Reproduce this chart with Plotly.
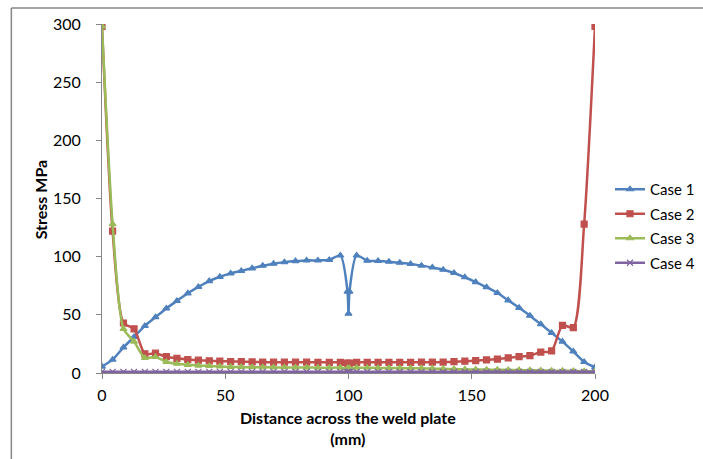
import plotly.graph_objects as go

# ---- data ----
x_mm = [0, 4.3, 8.7, 13, 17.4, 21.7, 26.1, 30.4, 34.8, 39.1, 43.5, 47.8, 52.2, 56.5,
        60.9, 65.2, 69.6, 74, 78.5, 83, 87.6, 92.2, 96.7, 99.6, 100, 100.4, 103.3,
        107.6, 112, 116.4, 120.8, 125.2, 129.6, 134, 138.4, 142.8, 147.2, 151.6, 156,
        160.4, 164.8, 169.2, 173.6, 178, 182.4, 186.8, 191.2, 195.6, 200]

case1 = [5.5, 11.5, 22, 31, 40.5, 48, 55.5, 62, 68.5, 74, 79, 82.7, 85.6, 87.8,
         90, 92.2, 94, 95.3, 96.2, 96.8, 96.8, 97.2, 101, 70, 51, 70, 101,
         96.5, 96.3, 95.7, 94.8, 93.8, 92.3, 90.7, 88.8, 86, 82.3, 78.2, 73.8,
         68.8, 62.5, 56, 49.3, 42, 34.5, 27, 18.5, 9.5, 5]

case2 = [298, 122, 43, 38, 16.5, 17, 14, 12.6, 11.6, 11, 10.5, 10.2, 9.9, 9.7,
         9.5, 9.4, 9.3, 9.3, 9.3, 9.3, 9.2, 9.2, 9.2, 8.5, 8, 8.5, 9.2,
         9.2, 9.2, 9.2, 9.2, 9.2, 9.3, 9.3, 9.4, 9.7, 10.2, 10.6, 11.2,
         12, 13, 14, 15, 18, 19, 41, 39, 128, 298]

case3 = [298, 128, 38, 27, 13, 13.8, 9.5, 8, 7, 6.4, 6, 5.6, 5.3, 5.1,
         5, 4.9, 4.8, 4.8, 4.7, 4.7, 4.6, 4.6, 4.6, 4, 3.5, 4, 4.6,
         4.5, 4.4, 4.3, 4.2, 4.1, 4, 3.8, 3.6, 3.4, 3.2, 3, 2.9,
         2.8, 2.6, 2.5, 2.4, 2.2, 2, 1.9, 1.8, 1.6, 1.5]

case4 = [1.0] * len(x_mm)

names = ["Case 1", "Case 2", "Case 3", "Case 4"]
series = [case1, case2, case3, case4]
colors = ["#4F81BD", "#C0504D", "#9BBB59", "#8064A2"]
symbols = ["triangle-up", "square", "triangle-up", "x-thin"]
msizes = [6, 6, 6, 6]

x_ticks = [0, 50, 100, 150, 200]
y_ticks = [0, 50, 100, 150, 200, 250, 300]

FONT = "Lato"

fig = go.Figure()
for name, ys, c, s, ms in zip(names, series, colors, symbols, msizes):
    fig.add_trace(go.Scatter(
        x=x_mm, y=ys, name=name, mode="lines+markers",
        line=dict(color=c, width=2.5, shape="spline", smoothing=0.7),
        marker=dict(symbol=s, size=ms, color=c, line=dict(color=c, width=1.2)),
        legendgroup=name,
    ))

W, H = 703, 459
L, R, T, B = 101.7, 595.0, 24.0, 373.0
pw, ph = R - L, B - T

def px(xp):
    return (xp - L) / pw

def py(yp):
    return (B - yp) / ph

axis_col = "#868686"
fig.update_layout(
    width=W, height=H,
    margin=dict(l=L, r=W - R, t=T, b=H - B, pad=0, autoexpand=False),
    paper_bgcolor="white", plot_bgcolor="white",
    font=dict(family=FONT, size=16, color="#000000"),
    showlegend=True,
    legend=dict(x=px(610), y=py(226), xanchor="left", yanchor="middle",
                font=dict(family=FONT, size=15), tracegroupgap=2,
                itemwidth=30,
                bgcolor="rgba(0,0,0,0)"),
    xaxis=dict(range=[0, 200], tickvals=x_ticks, showgrid=False, zeroline=False,
               showline=True, linecolor=axis_col, linewidth=1,
               ticks="outside", ticklen=5, tickcolor=axis_col,
               tickfont=dict(family=FONT, size=16), ticklabelstandoff=3),
    yaxis=dict(range=[0, 300], tickvals=y_ticks, showgrid=False, zeroline=False,
               showline=True, linecolor=axis_col, linewidth=1,
               ticks="outside", ticklen=5, tickcolor=axis_col,
               tickfont=dict(family=FONT, size=16), ticklabelstandoff=12),
    annotations=[
        dict(text="<b>Stress MPa</b>", x=px(40), y=py(199), xref="paper", yref="paper",
             textangle=-90, showarrow=False, font=dict(family=FONT, size=16),
             xanchor="center", yanchor="middle"),
        dict(text="<b>Distance across the weld plate<br>(mm)</b>", x=px(347.7), y=py(427.5),
             xref="paper", yref="paper", showarrow=False, font=dict(family=FONT, size=16),
             xanchor="center", yanchor="middle"),
    ],
    shapes=[
        dict(type="line", xref="paper", yref="paper", x0=px(11), x1=px(11),
             y0=py(470), y1=py(8), line=dict(color=axis_col, width=1.5)),
        dict(type="line", xref="paper", yref="paper", x0=px(11), x1=px(720),
             y0=py(8), y1=py(8), line=dict(color=axis_col, width=1.5)),
    ],
)

fig.write_html("out.html")
